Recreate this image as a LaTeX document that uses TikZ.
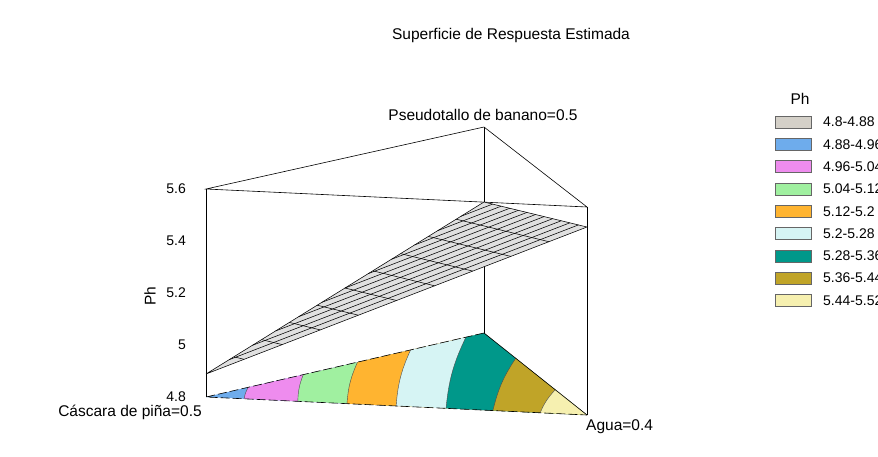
\documentclass[tikz,border=0pt]{standalone}
\usepackage{fontspec}
\setmainfont{Liberation Sans}
\usetikzlibrary{calc}

\definecolor{phgris}{RGB}{212,208,200}
\definecolor{phazul}{RGB}{110,172,236}
\definecolor{phrosa}{RGB}{238,140,238}
\definecolor{phverde}{RGB}{160,240,160}
\definecolor{phnaranja}{RGB}{255,180,48}
\definecolor{phceleste}{RGB}{214,244,244}
\definecolor{phturquesa}{RGB}{0,152,138}
\definecolor{pholiva}{RGB}{192,164,40}
\definecolor{phcrema}{RGB}{246,240,176}

\begin{document}
\begin{tikzpicture}[x=1pt,y=-1pt,
    lbl/.style={inner sep=0pt,font=\fontsize{15.5}{18}\selectfont},
    ticklbl/.style={inner sep=0pt,anchor=east,font=\fontsize{14}{17}\selectfont},
    frame/.style={line width=0.6pt},
    baseedge/.style={line width=0.6pt,dash pattern=on 9pt off 3pt},
    bandline/.style={line width=0.4pt,black!70},
    mesh/.style={line width=0.55pt},
    legbox/.style={draw=black!60,line width=0.6pt,minimum width=36pt,minimum height=12pt,inner sep=0pt}]

    % --- Page ---
    \clip (0,0) rectangle (878,456);
    \fill[white] (0,0) rectangle (878,456);

    % --- Define Coordinates ---
    % Top triangle of the prism
    \coordinate (TL) at (206,189);
    \coordinate (TB) at (484,127);
    \coordinate (TR) at (587,207);
    % Base triangle (Ph = 4.8)
    \coordinate (BL) at (206,397);
    \coordinate (BB) at (484,333);
    \coordinate (BR) at (587,415);
    % Corners of the estimated surface
    \coordinate (SL) at (206,374);
    \coordinate (SB) at (484,202);
    \coordinate (SR) at (587,227);

    % Band limits on the front edge (f) and on the back edges (t)
    \foreach \i/\p in {1/0.100,2/0.241,3/0.370,4/0.499,5/0.630,6/0.753,7/0.877}
        \coordinate (f\i) at ($(BL)!\p!(BR)$);
    \foreach \i/\p in {1/0.152,2/0.350,3/0.545,4/0.736,5/0.935}
        \coordinate (t\i) at ($(BL)!\p!(BB)$);
    \coordinate (t6) at ($(BB)!0.308!(BR)$);
    \coordinate (t7) at ($(BB)!0.692!(BR)$);

    % --- Contour bands on the base ---
    \begin{scope}
        \clip (BL) -- (BB) -- (BR) -- cycle;
        \fill[phazul] (BL) -- (BB) -- (BR) -- cycle;
        \foreach \i/\c in {1/phrosa,2/phverde,3/phnaranja,4/phceleste,5/phturquesa,6/pholiva,7/phcrema}
            \fill[\c] (f\i) to[bend left=10] (t\i) -- ++(0,-120) -- (700,200)
                -- (700,440) -- (f\i |- 0,440) -- cycle;
    \end{scope}
    \foreach \i in {1,...,7}
        \draw[bandline] (f\i) to[bend left=10] (t\i);

    % --- Prism ---
    \draw[baseedge] (BB) -- (BL) -- (BR);
    \draw[frame] (BB) -- (BR);
    \draw[frame] (TL) -- (TB) -- (TR) -- cycle;
    \draw[frame] (TL) -- (BL);
    \draw[frame] (TB) -- (BB);
    \draw[frame] (TR) -- (BR);

    % --- Estimated surface ---
    \fill[black!12] (SL) -- (SB) -- (SR) -- cycle;
    % lines parallel to the front side
    \foreach \k in {1,...,11}
        \draw[mesh] ($(SB)!\k/12!(SL)$) -- ($(SB)!\k/12!(SR)$);
    % lines parallel to the back side
    \foreach \k in {1,...,9}
        \draw[mesh] ($(SL)!\k/10!(SB)$) -- ($(SL)!\k/10!(SR)$);
    \draw[mesh] (SL) -- (SB) -- (SR) -- cycle;

    % --- Axis ---
    \foreach \v/\y in {4.8/397,5/345,5.2/293,5.4/241,5.6/189}
        \node[ticklbl] (tick\y) at (186,\y) {\v};
    \node[lbl,rotate=90] (ejeph) at (150,296) {Ph};

    % --- Labels ---
    \node[lbl] (titulo) at (511,35) {Superficie de Respuesta Estimada};
    \node[lbl] (pseudo) at (483,115) {Pseudotallo de banano=0.5};
    \node[lbl] (cascara) at (130,412) {Cáscara de piña=0.5};
    \node[lbl,anchor=west] (agua) at (586,427) {Agua=0.4};

    % --- Legend ---
    \node[lbl] (leyenda) at (800,99) {Ph};
    \foreach \c/\t [count=\i from 0] in {phgris/4.8-4.88,phazul/4.88-4.96,phrosa/4.96-5.04,
        phverde/5.04-5.12,phnaranja/5.12-5.2,phceleste/5.2-5.28,phturquesa/5.28-5.36,
        pholiva/5.36-5.44,phcrema/5.44-5.52}{
        \node[legbox,fill=\c] (caja\i) at (793,122+22.3*\i) {};
        \node[ticklbl,anchor=west] (rango\i) at (823,122+22.3*\i) {\t};
    }

\end{tikzpicture}
\end{document}
